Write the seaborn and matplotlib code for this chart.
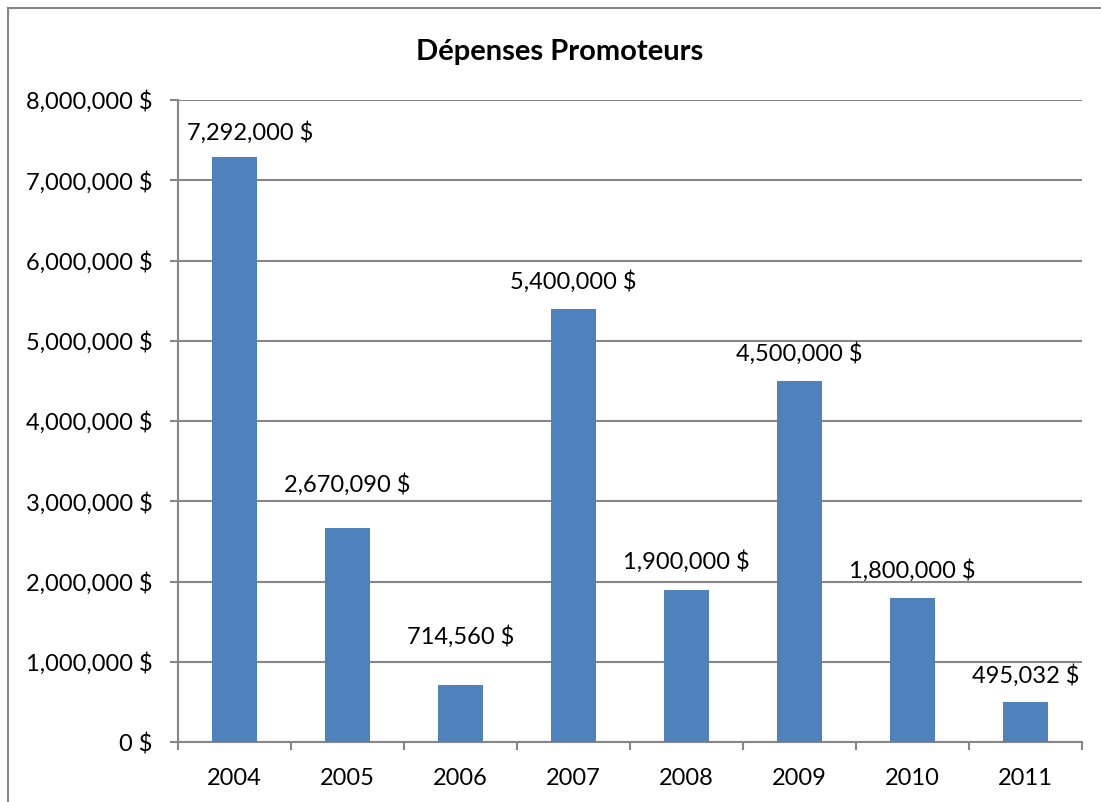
import matplotlib
matplotlib.use("Agg")
import matplotlib.pyplot as plt
from matplotlib.patches import Rectangle
from matplotlib.ticker import FuncFormatter, MultipleLocator
import seaborn as sns
import pandas as pd

# Data
years = ["2004", "2005", "2006", "2007", "2008", "2009", "2010", "2011"]
depenses = [7292000, 2670090, 714560, 5400000, 1900000, 4500000, 1800000, 495032]
title = "Dépenses Promoteurs"

# Label nudges (pixels) relative to the top of each bar
label_dx = [16, 0, 0, 0, 0, 0, 0, 0]
label_dy = [24, 43, 48, 27, 28, 27, 27, 27]

df = pd.DataFrame({"annee": years, "depenses": depenses})

sns.set_theme(style="white")
plt.rcParams["font.family"] = ["Lato", "DejaVu Sans"]

W, H = 1101, 802
fig = plt.figure(figsize=(W / 100, H / 100), dpi=100)
ax = fig.add_axes([178 / W, 1 - 742 / H, (1082 - 178) / W, (742 - 100) / H])

grey = "#868686"
blue = "#4F81BD"
fs = 17

sns.barplot(data=df, x="annee", y="depenses", color=blue, width=0.4,
            saturation=1, linewidth=0, ax=ax, zorder=3)

ax.set_xlim(-0.5, len(years) - 0.5)
ax.set_ylim(0, 8000000)
ax.yaxis.set_major_locator(MultipleLocator(1000000))
ax.yaxis.set_major_formatter(FuncFormatter(lambda v, p: f"{int(v):,} $"))
ax.grid(axis="y", color=grey, linewidth=1.5, zorder=0)
ax.set_axisbelow(True)
ax.set_xlabel("")
ax.set_ylabel("")

for side in ["top", "right"]:
    ax.spines[side].set_visible(False)
for side in ["left", "bottom"]:
    ax.spines[side].set_color(grey)
    ax.spines[side].set_linewidth(1.5)

# x ticks sit on category boundaries, labels centred on the bars
ax.set_xticks([i - 0.5 for i in range(len(years) + 1)], minor=True)
ax.tick_params(axis="x", which="minor", length=6, width=1.5, color=grey,
               direction="out", bottom=True)
ax.tick_params(axis="x", which="major", length=0, labelsize=fs, pad=19,
               labelcolor="black")
ax.tick_params(axis="y", which="major", length=6, width=1.5, color=grey,
               direction="out", left=True, labelsize=fs, pad=12.5,
               labelcolor="black")

for i, v in enumerate(depenses):
    ax.annotate(f"{v:,} $", xy=(i, v), xytext=(label_dx[i], label_dy[i]),
                textcoords="offset pixels", ha="center", va="center",
                fontsize=fs, color="black", zorder=5, annotation_clip=False)

fig.text(560 / W, 1 - 52 / H, title, ha="center", va="center",
         fontsize=21, fontweight="bold", color="black")

# chart frame
fig.patches.append(Rectangle((8 / W, -0.1), 1.2, 1 - 8 / H + 0.1,
                             transform=fig.transFigure, fill=False,
                             edgecolor=grey, linewidth=1.5))

fig.savefig("out.png", dpi=100, facecolor="white")
